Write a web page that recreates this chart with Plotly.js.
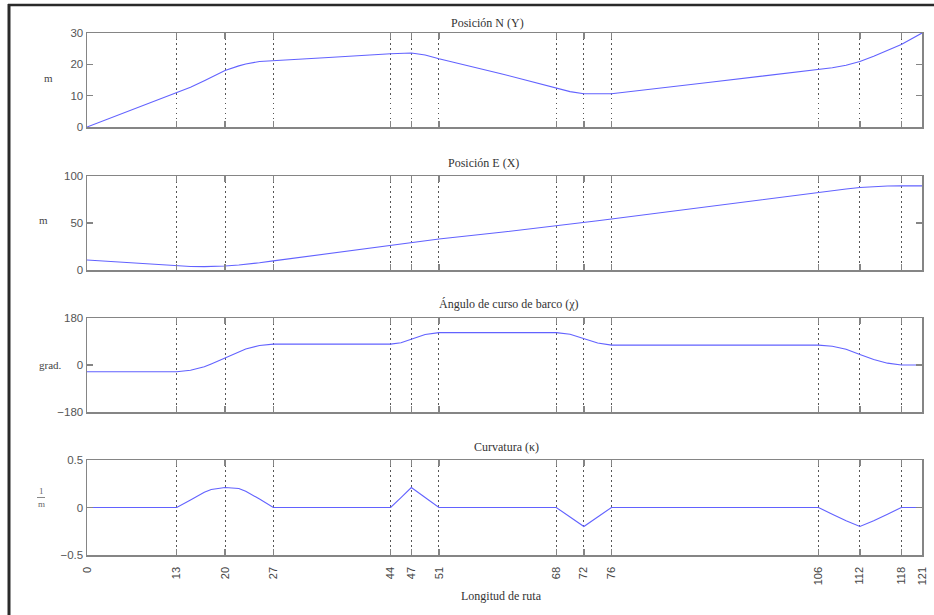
<!DOCTYPE html>
<html>
<head>
<meta charset="utf-8">
<script src="https://cdn.plot.ly/plotly-3.0.1.min.js"></script>
<style>html,body{margin:0;padding:0;background:#fff;}#chart{width:934px;height:615px;}</style>
</head>
<body>
<div id="chart"></div>
<script>
// Route length samples (m)
const s = [0,5,10,13,15,17,18,20,22,23,25,27,35,44,45.5,47,49,51,60,68,70,72,74,76,90,106,108,110,112,114,116,118,121];
// Position N (Y), m
const posN = [0,4.2,8.3,10.8,12.7,14.8,15.8,18.0,19.5,20.1,20.9,21.2,22.2,23.4,23.6,23.6,23.0,21.8,17.0,12.3,11.3,10.6,10.5,10.6,14.2,18.2,18.9,19.7,20.9,22.6,24.5,26.3,30];
// Position E (X), m
const posE = [10.6,8.3,6.0,4.4,3.8,3.6,3.6,4.2,5.3,6.0,7.7,9.7,17.5,26.5,28.0,29.4,31.2,32.9,40.1,46.7,48.5,50.5,52.4,54.2,67.6,82.4,84.3,86.1,87.7,88.8,89.4,89.5,89.5];
// Course angle chi, degrees
const chi = [-26,-26,-26,-26,-20,-7,4,27,51,61,75,80,80,80,85,100,117,124,124,124,118,101,84,76,76,76,72,60,40,21,7,0,0];
// Curvature kappa, 1/m
const kappa = [0,0,0,0,0.08,0.16,0.19,0.21,0.2,0.17,0.09,0,0,0,0.105,0.21,0.105,0,0,0,-0.1,-0.2,-0.1,0,0,0,-0.07,-0.14,-0.2,-0.14,-0.07,0,0];
// Waypoint ticks along the route
const xTicks = [0,13,20,27,44,47,51,68,72,76,106,112,118,121];
const xTickLabels = ['0','13','20','27','44','47','51','68','72','76','106','112','118','121'];
const titles = ['Posición N (Y)','Posición E (X)','Ángulo de curso de barco (χ)','Curvatura (κ)'];
const yTicks = [[0,10,20,30],[0,50,100],[-180,0,180],[-0.5,0,0.5]];
const yTickLabels = [['0','10','20','30'],['0','50','100'],['−180','0','180'],['−0.5','0','0.5']];
const yRanges = [[0,30],[0,100],[-180,180],[-0.5,0.5]];
const series = [posN, posE, chi, kappa];

const W = 934, H = 615;
const px = v => v / W;
const py = v => 1 - v / H;
const plotTop = [33, 176, 318, 460];
const plotBot = [127, 270, 412, 555];
const xL = 87, xR = 922;

const lineColor = '#6262ff';
const frameColor = '#858585';
const data = [];
const layout = {
  width: W, height: H,
  margin: {l:0, r:0, t:0, b:0},
  paper_bgcolor: '#ffffff', plot_bgcolor: '#ffffff',
  showlegend: false,
  annotations: [], shapes: []
};
for (let i = 0; i < 4; i++) {
  const k = i === 0 ? '' : String(i + 1);
  data.push({x: s, y: series[i], type: 'scatter', mode: 'lines',
    xaxis: 'x' + k, yaxis: 'y' + k,
    line: {color: lineColor, width: 1.1}, hoverinfo: 'skip'});
  layout['xaxis' + k] = {
    domain: [px(xL), px(xR)], anchor: 'y' + k, range: [0, 121],
    tickmode: 'array', tickvals: xTicks, ticktext: xTickLabels,
    showticklabels: i === 3, tickangle: -90,
    tickfont: {family: 'Liberation Sans, Arial, sans-serif', size: 11, color: '#444'},
    ticks: 'inside', ticklen: 6, tickwidth: 1.5, tickcolor: frameColor,
    showline: true, linecolor: frameColor, linewidth: 1.5, mirror: 'ticks',
    showgrid: true, gridcolor: '#555', griddash: '1.5px,3.5px', gridwidth: 1,
    zeroline: false, fixedrange: true, ticklabelstandoff: 6
  };
  layout['yaxis' + k] = {
    domain: [py(plotBot[i]), py(plotTop[i])], anchor: 'x' + k, range: yRanges[i],
    tickmode: 'array', tickvals: yTicks[i], ticktext: yTickLabels[i],
    tickfont: {family: 'Liberation Sans, Arial, sans-serif', size: 11.5, color: '#555'},
    ticks: 'inside', ticklen: 6, tickwidth: 1.5, tickcolor: frameColor,
    showline: true, linecolor: frameColor, linewidth: 1.5, mirror: 'ticks',
    showgrid: false, zeroline: false, fixedrange: true
  };
}
const serif = 'Liberation Serif, Times New Roman, serif';
const titlePos = [[487,23],[483,163],[509,304],[506,447]];
titles.forEach((t, i) => {
  layout.annotations.push({text: t, xref: 'paper', yref: 'paper',
    x: px(titlePos[i][0]), y: py(titlePos[i][1]), xanchor: 'center', yanchor: 'middle',
    showarrow: false, font: {family: serif, size: 12, color: '#333'}});
});
const yLabels = [['m',48,78],['m',43,220],['grad.',50,365]];
yLabels.forEach(l => {
  layout.annotations.push({text: l[0], xref: 'paper', yref: 'paper',
    x: px(l[1]), y: py(l[2]), xanchor: 'center', yanchor: 'middle',
    showarrow: false, font: {family: serif, size: 11, color: '#444'}});
});
layout.annotations.push({text: '1', xref: 'paper', yref: 'paper', x: px(41), y: py(491),
  xanchor: 'center', yanchor: 'middle', showarrow: false, font: {family: serif, size: 9, color: '#666'}});
layout.annotations.push({text: 'm', xref: 'paper', yref: 'paper', x: px(41), y: py(504),
  xanchor: 'center', yanchor: 'middle', showarrow: false, font: {family: serif, size: 9, color: '#666'}});
layout.shapes.push({type: 'line', xref: 'paper', yref: 'paper', x0: px(37), x1: px(45), y0: py(497.5), y1: py(497.5),
  line: {color: '#888', width: 1}});
layout.annotations.push({text: 'Longitud de ruta', xref: 'paper', yref: 'paper',
  x: px(502), y: py(596), xanchor: 'center', yanchor: 'middle', showarrow: false,
  font: {family: serif, size: 12, color: '#333'}});
// outer frame (left and top edges)
layout.shapes.push({type: 'line', xref: 'paper', yref: 'paper', x0: px(9), x1: px(9), y0: 0, y1: py(4),
  line: {color: '#2a2a2a', width: 3}});
layout.shapes.push({type: 'line', xref: 'paper', yref: 'paper', x0: px(8), x1: 1, y0: py(5), y1: py(5),
  line: {color: '#2a2a2a', width: 2.5}});

Plotly.newPlot('chart', data, layout, {displayModeBar: false, staticPlot: true});
</script>
</body>
</html>
